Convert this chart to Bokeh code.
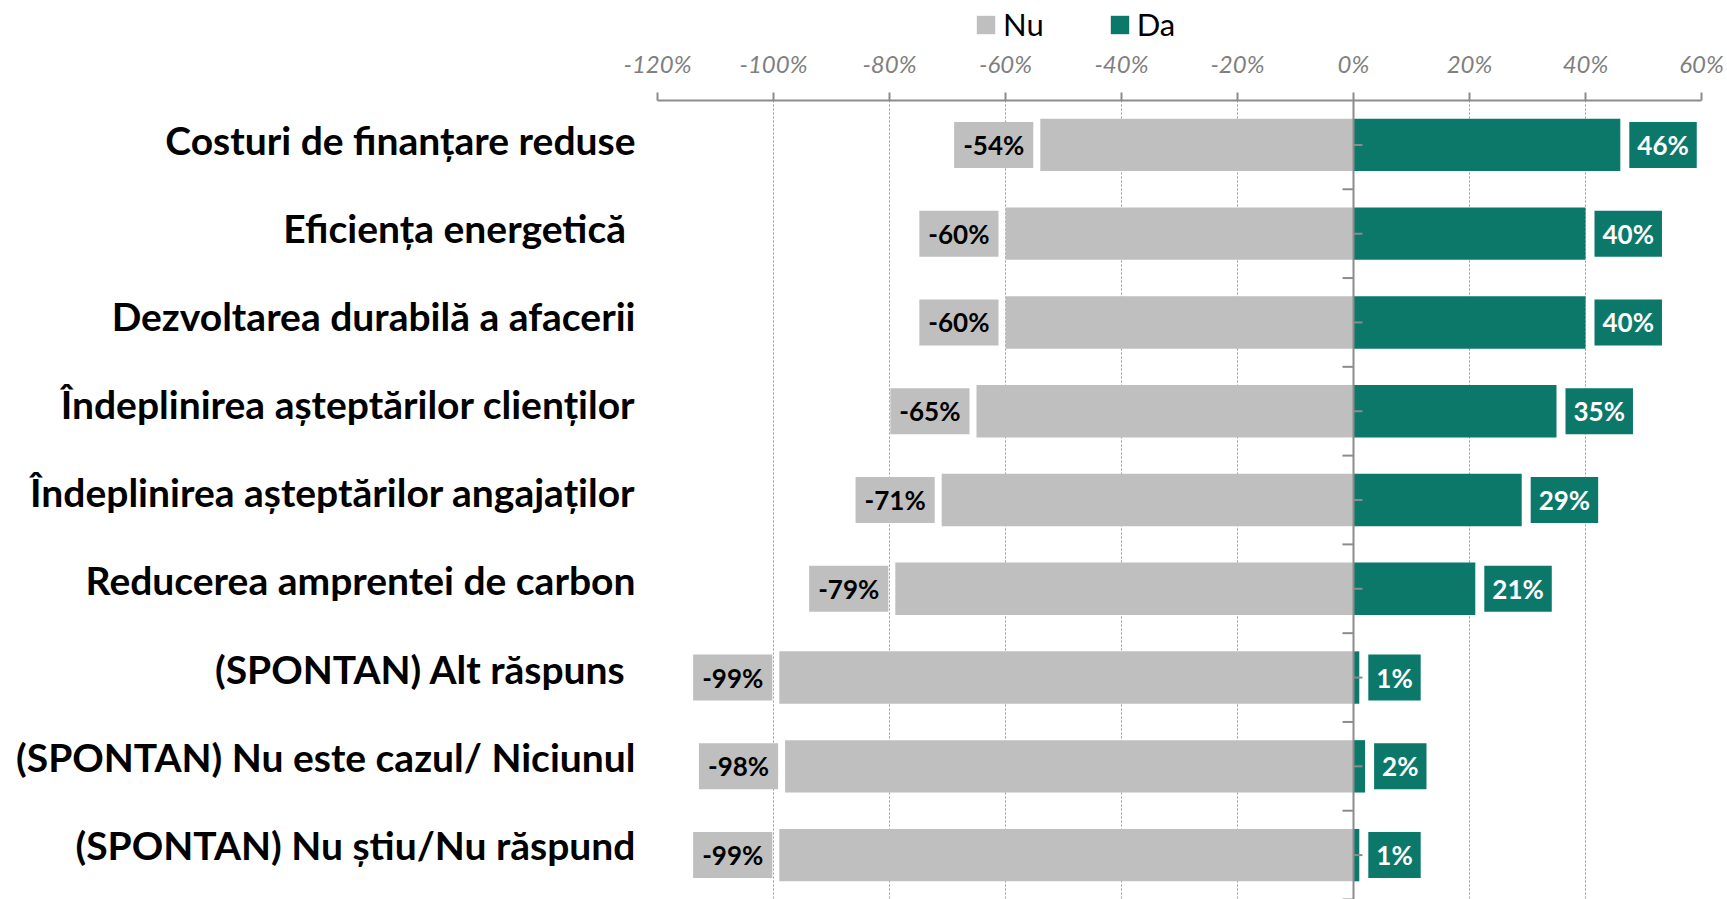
from bokeh.plotting import figure
from bokeh.layouts import column
from bokeh.models import Range1d, FixedTicker, Span, Legend, LegendItem, ColumnDataSource
from bokeh.core.properties import value
from bokeh.embed import file_html
from bokeh.resources import INLINE

categories = [
    "Costuri de finanțare reduse",
    "Eficiența energetică ",
    "Dezvoltarea durabilă a afacerii",
    "Îndeplinirea așteptărilor clienților",
    "Îndeplinirea așteptărilor angajaților",
    "Reducerea amprentei de carbon",
    "(SPONTAN) Alt răspuns ",
    "(SPONTAN) Nu este cazul/ Niciunul",
    "(SPONTAN) Nu știu/Nu răspund",
]
nu_values = [-54, -60, -60, -65, -71, -79, -99, -98, -99]
da_values = [46, 40, 40, 35, 29, 21, 1, 2, 1]
tick_values = [-120, -100, -80, -60, -40, -20, 0, 20, 40, 60]
tick_labels = ["-120%", "-100%", "-80%", "-60%", "-40%", "-20%", "0%", "20%", "40%", "60%"]
series_names = ["Nu", "Da"]

GRAY = "#bfbfbf"
TEAL = "#0b786a"
AXIS = "#8c8c8c"
FONT = "Lato"

n = len(categories)
ys = list(range(n))
src = ColumnDataSource(dict(
    y=ys, nu=nu_values, da=da_values,
    nu_lbl=[f"{v}%" for v in nu_values],
    da_lbl=[f"{v}%" for v in da_values],
))

W = 1726
BL, BR = 657, 25
LEG_H = 44

# ---------- legend strip ----------
lg = figure(width=W, height=LEG_H, output_backend="svg", toolbar_location=None,
            x_range=Range1d(tick_values[0], tick_values[-1]), y_range=Range1d(0, 1),
            min_border_left=BL, min_border_right=BR, min_border_top=0, min_border_bottom=0)
lg.axis.visible = False
lg.grid.visible = False
lg.outline_line_color = None
# zero-width bars: invisible, only used to draw the legend swatches
swatch = ColumnDataSource(dict(y=[0.5], l=[0], r=[0]))
d_nu = lg.hbar(y="y", left="l", right="r", height=0.5, source=swatch, fill_color=GRAY, line_color=None)
d_da = lg.hbar(y="y", left="l", right="r", height=0.5, source=swatch, fill_color=TEAL, line_color=None)
legend = Legend(items=[LegendItem(label=series_names[0], renderers=[d_nu]),
                       LegendItem(label=series_names[1], renderers=[d_da])],
                orientation="horizontal", location=(317, 1),
                glyph_width=23, glyph_height=23, label_standoff=6, spacing=64,
                label_height=36, padding=0, margin=0, border_line_color=None, background_fill_alpha=0,
                label_text_font=FONT, label_text_font_size="31px", label_text_color="black")
lg.add_layout(legend, "center")

# ---------- main chart ----------
p = figure(width=W, height=899 - LEG_H, output_backend="svg", toolbar_location=None,
           x_range=Range1d(tick_values[0], tick_values[-1]),
           y_range=Range1d(n - 0.5, -0.5),
           x_axis_location="above",
           min_border_left=BL, min_border_right=BR, min_border_top=100 - LEG_H, min_border_bottom=0)
p.outline_line_color = None
p.background_fill_color = "white"

p.ygrid.visible = False
p.xgrid.ticker = FixedTicker(ticks=[t for t in tick_values if t != 0])
p.xgrid.grid_line_color = "#9a9a9a"
p.xgrid.grid_line_dash = "2 2"
p.xgrid.grid_line_width = 1

xa = p.xaxis[0]
xa.ticker = FixedTicker(ticks=tick_values)
xa.major_label_overrides = {t: l for t, l in zip(tick_values, tick_labels)}
xa.axis_line_color = AXIS
xa.axis_line_width = 2
xa.major_tick_line_color = AXIS
xa.major_tick_line_width = 2
xa.major_tick_out = 8
xa.major_tick_in = 0
xa.minor_tick_line_color = None
xa.major_label_standoff = 15
xa.major_label_text_font = FONT
xa.major_label_text_font_style = "italic"
xa.major_label_text_font_size = "24px"
xa.major_label_text_color = "#7f7f7f"

# category labels sit slightly above their bars, as in the original
label_pos = [round(i * 0.993 - 0.06, 4) for i in ys]
ya = p.yaxis[0]
ya.ticker = FixedTicker(ticks=label_pos)
ya.major_label_overrides = {pos: c for pos, c in zip(label_pos, categories)}
ya.axis_line_color = None
ya.major_tick_line_color = None
ya.major_tick_out = 0
ya.major_tick_in = 0
ya.minor_tick_line_color = None
ya.minor_tick_out = 0
ya.major_label_standoff = 22
ya.major_label_text_font = FONT
ya.major_label_text_font_style = "bold"
ya.major_label_text_font_size = "39px"
ya.major_label_text_color = "black"

p.hbar(y="y", left="nu", right=0, height=0.59, source=src, fill_color=GRAY, line_color=None)
p.hbar(y="y", left=0, right="da", height=0.59, source=src, fill_color=TEAL, line_color=None)

p.add_layout(Span(location=0, dimension="height", line_color=AXIS, line_width=2))
bounds = [i + 0.5 for i in ys]
p.segment(x0=[0] * len(bounds), x1=[-1.9] * len(bounds), y0=bounds, y1=bounds,
          line_color=AXIS, line_width=2)
p.segment(x0=[0] * n, x1=[1.55] * n, y0=ys, y1=ys, line_color=AXIS, line_width=2)

p.text(x="nu", y="y", text="nu_lbl", source=src, text_align="right", text_baseline="middle",
       x_offset=-7, text_font=value(FONT), text_font_style="bold", text_font_size="26px",
       text_color="black", background_fill_color=GRAY,
       padding=dict(left=9, right=9, top=7, bottom=7))
p.text(x="da", y="y", text="da_lbl", source=src, text_align="left", text_baseline="middle",
       x_offset=9, text_font=value(FONT), text_font_style="bold", text_font_size="26px",
       text_color="white", background_fill_color=TEAL,
       padding=dict(left=8, right=8, top=7, bottom=7))

layout = column(lg, p, spacing=0)
open("out.html", "w").write(file_html(layout, INLINE))
